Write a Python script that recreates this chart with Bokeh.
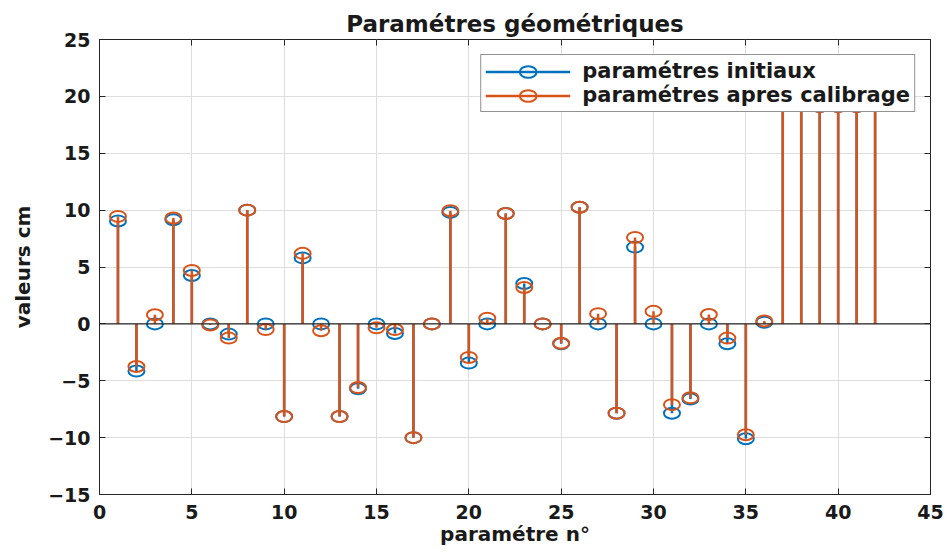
from bokeh.plotting import figure
from bokeh.models import (ColumnDataSource, Legend, LegendItem, LinearAxis,
                          Span, FixedTicker, Range1d, CustomLabelingPolicy)
from bokeh.embed import file_html
from bokeh.resources import INLINE

# ---------------- data ----------------
param_n = list(range(1, 43))

initiaux = [9.05, -4.15, 0.0, 9.15, 4.25, 0.0, -0.9, 10.0, 0.0, -8.15,
            5.8, 0.0, -8.15, -5.7, 0.0, -0.85, -10.0, 0.0, 9.8, -3.45,
            0.0, 9.7, 3.55, 0.0, -1.75, 10.25, 0.0, -7.85, 6.75, 0.0,
            -7.85, -6.6, 0.0, -1.75, -10.1, 0.15,
            19.5, 19.5, 19.1, 19.1, 19.1, 20.2]

apres_calibrage = [9.45, -3.75, 0.8, 9.3, 4.7, -0.1, -1.25, 10.0, -0.5, -8.15,
                   6.2, -0.6, -8.15, -5.6, -0.35, -0.5, -10.0, 0.0, 9.95, -2.95,
                   0.5, 9.7, 3.2, 0.0, -1.7, 10.25, 0.9, -7.85, 7.6, 1.1,
                   -7.1, -6.5, 0.82, -1.25, -9.75, 0.25,
                   19.5, 19.5, 19.1, 19.1, 19.1, 20.2]

x_ticks = [0, 5, 10, 15, 20, 25, 30, 35, 40, 45]
y_ticks = [-15, -10, -5, 0, 5, 10, 15, 20, 25]

title_text = "Paramétres géométriques"
x_label = "paramétre n°"
y_label = "valeurs cm"
label_initiaux = "paramétres initiaux"
label_apres = "paramétres apres calibrage"

# ---------------- style ----------------
FONT = "DejaVu Sans"
TXT = "#1a1a1a"
AX = "#262626"
BLUE = "#0072BD"
ORANGE = "#D95319"
GRID = "#dedede"

p = figure(width=945, height=550, output_backend="svg", toolbar_location=None,
           x_range=Range1d(0, 45), y_range=Range1d(-15, 25),
           min_border_left=99, min_border_right=15,
           min_border_top=39, min_border_bottom=56,
           title=title_text)

p.title.text_font = FONT
p.title.text_font_size = "23px"
p.title.text_font_style = "bold"
p.title.text_color = TXT
p.title.align = "center"
p.title.standoff = 6

src_i = ColumnDataSource(dict(x=param_n, y=initiaux))
src_o = ColumnDataSource(dict(x=param_n, y=apres_calibrage))

r_si = p.segment(x0="x", y0=0, x1="x", y1="y", source=src_i,
                 line_color=BLUE, line_width=2.5)
r_ei = p.ellipse(x="x", y="y", width=16, height=11,
                 width_units="screen", height_units="screen", source=src_i,
                 fill_color=None, line_color=BLUE, line_width=2)
r_so = p.segment(x0="x", y0=0, x1="x", y1="y", source=src_o,
                 line_color=ORANGE, line_width=2.5)
r_eo = p.ellipse(x="x", y="y", width=16, height=11,
                 width_units="screen", height_units="screen", source=src_o,
                 fill_color=None, line_color=ORANGE, line_width=2)

p.add_layout(Span(location=0, dimension="width", line_color=AX, line_width=1.2))

# axes
for ax, ticks in ((p.xaxis, x_ticks), (p.yaxis, y_ticks)):
    ax.ticker = FixedTicker(ticks=ticks)
    ax.major_label_text_font = FONT
    ax.major_label_text_font_size = "19px"
    ax.major_label_text_font_style = "bold"
    ax.major_label_text_color = TXT
    ax.axis_label_text_font = FONT
    ax.axis_label_text_font_style = "bold"
    ax.axis_label_text_color = TXT
    ax.axis_line_color = AX
    ax.major_tick_line_color = AX
    ax.major_tick_in = 6
    ax.major_tick_out = 0
    ax.minor_tick_line_color = None
    ax.minor_tick_in = 0
    ax.minor_tick_out = 0

p.xaxis.axis_label = x_label
p.yaxis.axis_label = y_label
p.xaxis.axis_label_text_font_size = "20px"
p.yaxis.axis_label_text_font_size = "20px"
p.xaxis.major_label_standoff = 10
p.xaxis.axis_label_standoff = 0
p.yaxis.major_label_standoff = 9
p.yaxis.axis_label_standoff = 10

no_labels = "const n = indices.size; for (let i = 0; i < n; i++) { indices.unset(i) } return indices"


def tick_only_axis(ticks):
    return LinearAxis(ticker=FixedTicker(ticks=ticks), major_label_text_font_size="0px",
                      major_label_policy=CustomLabelingPolicy(code=no_labels),
                      major_label_standoff=0, major_tick_in=6, major_tick_out=0,
                      minor_tick_in=0, minor_tick_out=0,
                      major_tick_line_color=AX, minor_tick_line_color=None,
                      axis_line_color=None)


p.add_layout(tick_only_axis(x_ticks), "above")
p.add_layout(tick_only_axis(y_ticks), "right")

p.xgrid.ticker = FixedTicker(ticks=x_ticks)
p.ygrid.ticker = FixedTicker(ticks=y_ticks)
p.xgrid.grid_line_color = GRID
p.ygrid.grid_line_color = GRID
p.outline_line_color = AX
p.outline_line_alpha = 1.0
p.background_fill_color = "white"
p.border_fill_color = "white"

legend = Legend(items=[LegendItem(label=label_initiaux, renderers=[r_si, r_ei]),
                       LegendItem(label=label_apres, renderers=[r_so, r_eo])],
                location="top_right", margin=15, padding=4, spacing=0,
                glyph_width=85, glyph_height=21, label_height=21, label_standoff=12,
                label_text_font=FONT, label_text_font_size="21px",
                label_text_font_style="bold", label_text_color=TXT,
                border_line_color=AX, border_line_width=1,
                background_fill_color="white", background_fill_alpha=1.0)
p.add_layout(legend)

open("out.html", "w").write(file_html(p, INLINE))
